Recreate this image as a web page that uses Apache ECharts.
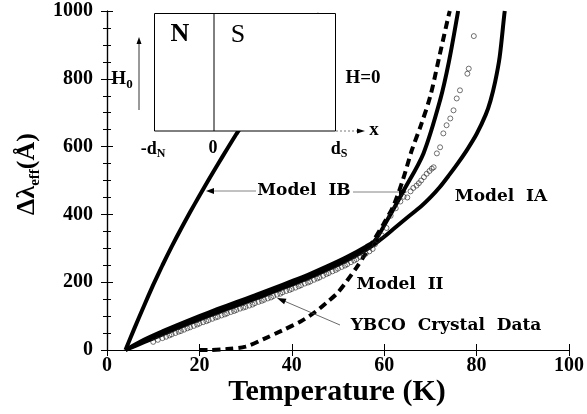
<!DOCTYPE html>
<html><head><meta charset="utf-8">
<script src="https://cdn.jsdelivr.net/npm/echarts@6/dist/echarts.min.js"></script>
<style>html,body{margin:0;padding:0;background:#fff}#c{width:587px;height:414px}</style>
</head><body><div id="c"></div>
<script>
// ---- data ----
const xTickInterval = 20;
const yTickInterval = 200;
// Model IB, steep branch
const ibSteepT = [4, 6, 8, 10, 12, 14, 16, 18, 20, 22, 24, 26, 28, 30, 32, 34, 36, 38, 40, 42, 44, 46];
const ibSteepV = [0, 66, 130, 192, 250, 305, 357, 407, 455, 502, 548, 593, 637, 679, 720, 760, 800, 840, 879, 917, 955, 992];
// Model IB, branch following the data
const ibT = [4, 8, 12, 16, 20, 24, 28, 32, 36, 40, 44, 48, 52, 56, 58, 60.6, 64.2, 68.5, 72.1, 74, 76];
const ibV = [0, 30, 55, 78, 100, 121, 141, 161, 182, 203, 225, 249, 275, 305, 323, 382, 470, 580, 737, 850, 1000];
// Model IA
const iaT = [4, 8, 12, 16, 20, 24, 28, 32, 36, 40, 44, 48, 52, 56, 58, 60, 62, 65, 68, 70, 72, 74, 76, 78, 80, 82, 83, 84, 85, 86, 86.1];
const iaV = [0, 23, 46, 69, 90, 111, 131, 151, 172, 193, 215, 239, 265, 295, 313, 334, 357, 391, 424, 450, 480, 515, 552, 592, 637, 695, 735, 790, 865, 990, 1000];
// Model II (dashed)
const m2T = [20, 22, 26, 30, 34, 38, 42, 44, 46, 48, 50, 52, 54, 56, 58, 60, 62, 64, 66, 68, 70, 72, 74, 74.2];
const m2V = [0, 0, 3, 10, 33, 58, 85, 102, 122, 145, 170, 205, 243, 285, 330, 375, 425, 500, 590, 665, 750, 870, 990, 1000];
// YBCO crystal data
const dataT = [10, 11, 12, 12.8, 13.5, 14, 14.8, 15.5, 16, 16.7, 17.4, 18, 18.8, 19.5, 20, 20.8, 21.5, 22, 22.8, 23.5, 24, 24.8, 25.5, 26, 26.8, 27.5, 28, 28.8, 29.5, 30, 30.8, 31.5, 32, 32.8, 33.5, 34, 34.8, 35.5, 36, 36.8, 37.5, 38, 38.8, 39.5, 40, 40.8, 41.5, 42, 42.8, 43.5, 44, 44.8, 45.5, 46, 46.8, 47.5, 48, 48.8, 49.5, 50, 50.8, 51.5, 52, 52.8, 53.5, 54, 54.8, 55.5, 56, 56.8, 57.5, 58, 58.5, 59.5, 60.5, 61.4, 62.5, 63.5, 64.2, 65, 65.7, 66.3, 67, 67.5, 68, 68.6, 69.2, 69.8, 70.3, 70.7, 71.4, 72.1, 72.8, 73.5, 74.3, 75, 75.7, 76.4, 78, 78.3, 79.4];
const dataV = [24, 30, 35, 39, 43, 46, 50, 54, 56, 60, 64, 67, 71, 75, 78, 82, 85, 88, 92, 96, 98, 102, 105, 108, 112, 115, 118, 122, 125, 127, 131, 134, 138, 142, 145, 148, 152, 155, 159, 163, 166, 170, 174, 177, 180, 184, 188, 191, 196, 199, 202, 207, 211, 214, 219, 224, 227, 232, 236, 240, 245, 249, 253, 259, 264, 268, 274, 280, 284, 291, 298, 312, 324, 338, 360, 396, 418, 438, 452, 450, 468, 478, 485, 492, 500, 510, 520, 528, 535, 539, 580, 598, 639, 663, 683, 707, 742, 766, 815, 830, 926];

const pairs = (t, v) => t.map((x, i) => [x, v[i]]);

const SERIF = '"Liberation Serif", "Times New Roman", serif';
const LABF = '"DejaVu Serif", serif';

const chart = echarts.init(document.getElementById('c'), null, {renderer: 'canvas'});

const axisCommon = {
  type: 'value',
  axisLine: {show: true, lineStyle: {color: '#000', width: 1.2}},
  splitLine: {show: false}
};

function arrowHead(x, y, dir, len, half, fill) {
  const c = Math.cos(dir), s = Math.sin(dir);
  const bx = x - c * len, by = y - s * len;
  return {
    type: 'polygon', z: 200,
    shape: {points: [[x, y], [bx - s * half, by + c * half], [bx + s * half, by - c * half]]},
    style: {fill: fill || '#000'}
  };
}
function line(x1, y1, x2, y2, w, color, dash) {
  return {type: 'line', z: 200, shape: {x1, y1, x2, y2},
    style: {stroke: color || '#000', lineWidth: w || 1, lineDash: dash || null}};
}
function text(x, y, t, size, weight, font, extra) {
  return {type: 'text', z: 210, x, y,
    style: Object.assign({text: t, fontSize: size, fontWeight: weight || 'normal', fontFamily: font || SERIF,
      fill: '#000', align: 'center', verticalAlign: 'middle'}, extra || {})};
}

const graphic = [
  // inset
  {type: 'rect', z: 150, shape: {x: 154.5, y: 13.5, width: 181, height: 117.5}, style: {fill: '#fff', stroke: '#000', lineWidth: 1}},
  line(214, 13.5, 214, 131, 1),
  text(180, 34, 'N', 26, 'bold'),
  text(238, 35, 'S', 26, 'normal'),
  {type: 'text', z: 210, x: 122, y: 79, style: {text: '{h|H}{s|0}', align: 'center', verticalAlign: 'middle',
    rich: {h: {fontSize: 19, fontWeight: 'bold', fontFamily: SERIF, lineHeight: 24, verticalAlign: 'middle'},
           s: {fontSize: 13, fontWeight: 'bold', fontFamily: SERIF, lineHeight: 24, verticalAlign: 'bottom'}}}},
  line(139, 110, 139, 42, 0.8),
  arrowHead(139, 37, -Math.PI / 2, 7, 2.5),
  text(363, 78, 'H=0', 19, 'bold'),
  line(336, 131, 358, 131, 0.8, '#555', [2, 2]),
  arrowHead(365, 131, 0, 8, 2.5),
  text(374, 130, 'x', 19, 'bold'),
  {type: 'text', z: 210, x: 153, y: 149, style: {text: '{h|-d}{s|N}', align: 'center', verticalAlign: 'middle',
    rich: {h: {fontSize: 18, fontWeight: 'bold', fontFamily: SERIF, lineHeight: 22},
           s: {fontSize: 12, fontWeight: 'bold', fontFamily: SERIF, lineHeight: 22, verticalAlign: 'bottom'}}}},
  text(213, 148, '0', 18, 'bold'),
  {type: 'text', z: 210, x: 339, y: 149, style: {text: '{h|d}{s|S}', align: 'center', verticalAlign: 'middle',
    rich: {h: {fontSize: 18, fontWeight: 'bold', fontFamily: SERIF, lineHeight: 22},
           s: {fontSize: 12, fontWeight: 'bold', fontFamily: SERIF, lineHeight: 22, verticalAlign: 'bottom'}}}},
  // model labels
  text(304, 191, 'Model  IB', 17, 'bold', LABF),
  line(256, 191, 212, 191, 0.8, '#666'),
  arrowHead(206, 191, Math.PI, 8, 3),
  line(353, 192, 400, 192, 0.8, '#666'),
  arrowHead(407, 192, 0, 8, 3),
  text(501, 197, 'Model  IA', 17, 'bold', LABF),
  text(400, 285, 'Model  II', 17, 'bold', LABF),
  text(446, 326, 'YBCO  Crystal  Data', 17, 'bold', LABF),
  line(340, 325, 283, 300.5, 0.8, '#444'),
  arrowHead(277, 298, Math.atan2(298 - 325, 277 - 340), 9, 3),
  // axis titles
  text(337, 392, 'Temperature (K)', 30, 'bold'),
  {type: 'text', z: 210, x: 27, y: 174, rotation: Math.PI / 2,
    style: {text: '{a|Δλ}{s|eff}{a|(Å)}', align: 'center', verticalAlign: 'middle',
      rich: {a: {fontSize: 26, fontWeight: 'bold', fontFamily: SERIF, lineHeight: 32},
             s: {fontSize: 15, fontWeight: 'bold', fontFamily: SERIF, lineHeight: 32, verticalAlign: 'bottom'}}}}
];

const solid = {color: '#000', width: 4};

chart.setOption({
  animation: false,
  backgroundColor: '#fff',
  grid: {left: 107, right: 14, top: 11, bottom: 64, show: false},
  xAxis: [
    Object.assign({}, axisCommon, {min: 0, max: 100, interval: xTickInterval, position: 'bottom',
      axisTick: {show: true, inside: true, length: 6, lineStyle: {color: '#000'}},
      axisLabel: {fontFamily: SERIF, fontWeight: 'bold', fontSize: 20, color: '#000', margin: 6}}),
    Object.assign({}, axisCommon, {min: 0, max: 100, interval: xTickInterval, position: 'top',
      axisTick: {show: true, inside: true, length: 6, lineStyle: {color: '#000'}},
      axisLabel: {show: false}})
  ],
  yAxis: [
    Object.assign({}, axisCommon, {min: 0, max: 1000, interval: yTickInterval, position: 'left',
      axisTick: {show: true, inside: true, length: 6, lineStyle: {color: '#000'}},
      minorTick: {show: true, splitNumber: 4, length: 4, lineStyle: {color: '#000'}},
      axisLabel: {fontFamily: SERIF, fontWeight: 'bold', fontSize: 20, color: '#000', margin: 14,
        formatter: v => String(v)}}),
    Object.assign({}, axisCommon, {min: 0, max: 1000, interval: yTickInterval, position: 'right',
      axisTick: {show: true, inside: true, length: 6, lineStyle: {color: '#000'}},
      minorTick: {show: true, splitNumber: 4, length: 4, lineStyle: {color: '#000'}},
      axisLabel: {show: false}})
  ],
  series: [
    {type: 'line', name: 'Model IB steep', data: pairs(ibSteepT, ibSteepV), showSymbol: false, smooth: 0.2, lineStyle: solid, clip: true, z: 3},
    {type: 'line', name: 'Model IB', data: pairs(ibT, ibV), showSymbol: false, smooth: 0.3, lineStyle: solid, clip: true, z: 3},
    {type: 'line', name: 'Model IA', data: pairs(iaT, iaV), showSymbol: false, smooth: 0.3, lineStyle: solid, clip: true, z: 3},
    {type: 'line', name: 'Model II', data: pairs(m2T, m2V), showSymbol: false, smooth: 0.3, clip: true, z: 3,
      lineStyle: {color: '#000', width: 4, type: [8, 5]}},
    {type: 'scatter', name: 'YBCO Crystal Data', data: pairs(dataT, dataV), symbol: 'circle', symbolSize: 5, z: 4,
      itemStyle: {color: 'rgba(255,255,255,0)', borderColor: '#222', borderWidth: 0.8}}
  ],
  graphic: graphic
});
</script>
</body></html>
